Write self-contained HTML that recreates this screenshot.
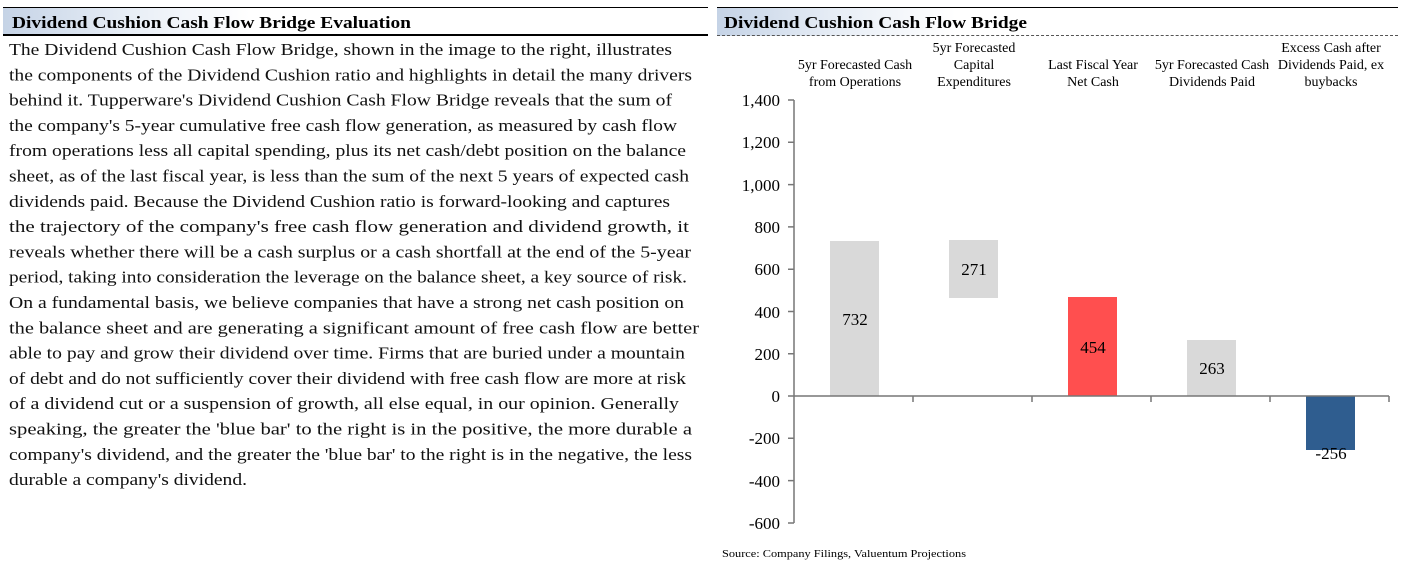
<!DOCTYPE html>
<html><head><style>
body{margin:0;width:1417px;height:568px;background:#fff;position:relative;overflow:hidden;font-family:"Liberation Serif",serif;}
.hdr{position:absolute;top:7px;height:27px;border-top:1px solid #000;background:linear-gradient(90deg,#c5d3e6 0%,#e8eef6 18%,#fff 35%);box-sizing:border-box}
</style></head><body>
<div class="hdr" style="left:3px;width:705px;border-bottom:2px solid #000;height:29px"></div>
<div class="hdr" style="left:717px;width:681px;border-bottom:1px dashed #555;height:29px"></div>
<svg style="position:absolute;left:0;top:0" width="1417" height="568" font-family="Liberation Serif, serif">
<g font-weight="bold" font-size="17" lengthAdjust="spacingAndGlyphs">
<text x="12" y="28" textLength="399" lengthAdjust="spacingAndGlyphs">Dividend Cushion Cash Flow Bridge Evaluation</text>
<text x="724" y="28" textLength="303" lengthAdjust="spacingAndGlyphs">Dividend Cushion Cash Flow Bridge</text>
</g>
<g font-size="17" fill="#111">
<text x="9" y="55" textLength="663" lengthAdjust="spacingAndGlyphs">The Dividend Cushion Cash Flow Bridge, shown in the image to the right, illustrates</text>
<text x="9" y="80.3" textLength="683" lengthAdjust="spacingAndGlyphs">the components of the Dividend Cushion ratio and highlights in detail the many drivers</text>
<text x="9" y="105.6" textLength="663" lengthAdjust="spacingAndGlyphs">behind it. Tupperware's Dividend Cushion Cash Flow Bridge reveals that the sum of</text>
<text x="9" y="130.9" textLength="668" lengthAdjust="spacingAndGlyphs">the company's 5-year cumulative free cash flow generation, as measured by cash flow</text>
<text x="9" y="156.2" textLength="677" lengthAdjust="spacingAndGlyphs">from operations less all capital spending, plus its net cash/debt position on the balance</text>
<text x="9" y="181.5" textLength="680" lengthAdjust="spacingAndGlyphs">sheet, as of the last fiscal year, is less than the sum of the next 5 years of expected cash</text>
<text x="9" y="206.8" textLength="661" lengthAdjust="spacingAndGlyphs">dividends paid. Because the Dividend Cushion ratio is forward-looking and captures</text>
<text x="9" y="232.1" textLength="680" lengthAdjust="spacingAndGlyphs">the trajectory of the company's free cash flow generation and dividend growth, it</text>
<text x="9" y="257.4" textLength="682" lengthAdjust="spacingAndGlyphs">reveals whether there will be a cash surplus or a cash shortfall at the end of the 5-year</text>
<text x="9" y="282.7" textLength="678" lengthAdjust="spacingAndGlyphs">period, taking into consideration the leverage on the balance sheet, a key source of risk.</text>
<text x="9" y="308" textLength="675" lengthAdjust="spacingAndGlyphs">On a fundamental basis, we believe companies that have a strong net cash position on</text>
<text x="9" y="333.3" textLength="690" lengthAdjust="spacingAndGlyphs">the balance sheet and are generating a significant amount of free cash flow are better</text>
<text x="9" y="358.6" textLength="676" lengthAdjust="spacingAndGlyphs">able to pay and grow their dividend over time. Firms that are buried under a mountain</text>
<text x="9" y="383.9" textLength="677" lengthAdjust="spacingAndGlyphs">of debt and do not sufficiently cover their dividend with free cash flow are more at risk</text>
<text x="9" y="409.2" textLength="670" lengthAdjust="spacingAndGlyphs">of a dividend cut or a suspension of growth, all else equal, in our opinion. Generally</text>
<text x="9" y="434.5" textLength="683" lengthAdjust="spacingAndGlyphs">speaking, the greater the 'blue bar' to the right is in the positive, the more durable a</text>
<text x="9" y="459.8" textLength="683" lengthAdjust="spacingAndGlyphs">company's dividend, and the greater the 'blue bar' to the right is in the negative, the less</text>
<text x="9" y="485.1" textLength="238" lengthAdjust="spacingAndGlyphs">durable a company's dividend.</text>
</g>
<g font-size="14" text-anchor="middle" fill="#000">
<text x="855" y="69">5yr Forecasted Cash</text><text x="855" y="86">from Operations</text>
<text x="974" y="52">5yr Forecasted</text><text x="974" y="69">Capital</text><text x="974" y="86">Expenditures</text>
<text x="1093" y="69">Last Fiscal Year</text><text x="1093" y="86">Net Cash</text>
<text x="1212" y="69">5yr Forecasted Cash</text><text x="1212" y="86">Dividends Paid</text>
<text x="1331" y="52">Excess Cash after</text><text x="1331" y="69">Dividends Paid, ex</text><text x="1331" y="86">buybacks</text>
</g>
<g fill="#d9d9d9">
<rect x="830" y="241" width="49" height="155"/>
<rect x="949" y="240" width="49" height="58"/>
<rect x="1187" y="340" width="49" height="56"/>
</g>
<rect x="1068" y="297" width="49" height="99" fill="#ff4f4f"/>
<rect x="1306" y="396" width="49" height="54" fill="#2f5d8f"/>
<g stroke="#777" stroke-width="1.5" fill="none">
<line x1="794" y1="100" x2="794" y2="523"/>
<line x1="794" y1="396" x2="1389" y2="396"/>
<path d="M788 100H794M788 142.3H794M788 184.6H794M788 226.9H794M788 269.2H794M788 311.5H794M788 353.8H794M788 396H794M788 438.3H794M788 480.6H794M788 523H794"/>
<path d="M913 396V402M1032 396V402M1151 396V402M1270 396V402M1389 396V402"/>
</g>
<g font-size="17" text-anchor="end" fill="#000">
<text x="780" y="106">1,400</text><text x="780" y="148">1,200</text><text x="780" y="191">1,000</text><text x="780" y="233">800</text><text x="780" y="275">600</text><text x="780" y="318">400</text><text x="780" y="360">200</text><text x="780" y="402">0</text><text x="780" y="444">-200</text><text x="780" y="487">-400</text><text x="780" y="529">-600</text>
</g>
<g font-size="17" text-anchor="middle" fill="#000">
<text x="855" y="325">732</text><text x="974" y="275">271</text><text x="1093" y="353">454</text><text x="1212" y="374">263</text><text x="1331" y="459">-256</text>
</g>
<text x="722" y="557" font-size="11" textLength="244" lengthAdjust="spacingAndGlyphs">Source: Company Filings, Valuentum Projections</text>
</svg>
</body></html>
